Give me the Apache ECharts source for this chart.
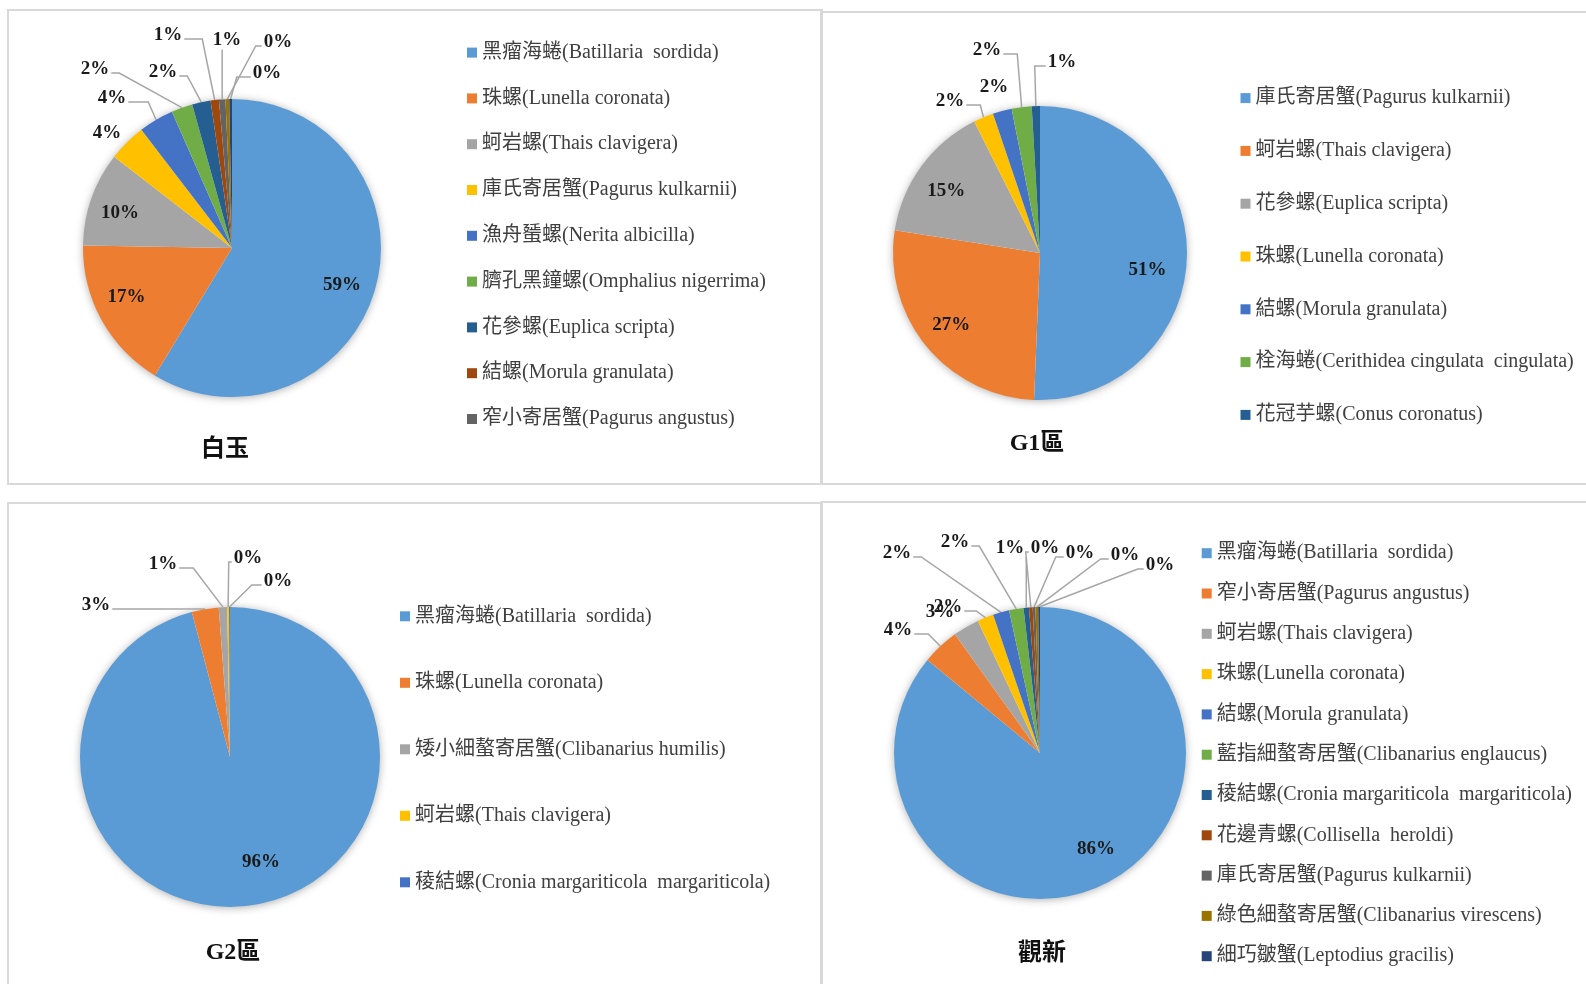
<!DOCTYPE html>
<html>
<head>
<meta charset="utf-8">
<script src="https://cdn.jsdelivr.net/npm/echarts@6/dist/echarts.min.js"></script>
<style>
html,body{margin:0;padding:0;background:#fff;width:1586px;height:984px;overflow:hidden;position:relative}
.box{position:absolute;border:2px solid #d9d9d9;box-sizing:border-box}
.chart{position:absolute}
</style>
</head>
<body>
<div class="box" style="left:7px;top:9px;width:816px;height:476px"></div>
<div class="box" style="left:820px;top:11px;width:800px;height:474px"></div>
<div class="box" style="left:7px;top:502px;width:816px;height:520px"></div>
<div class="box" style="left:820px;top:501px;width:800px;height:520px"></div>
<div id="c1" class="chart"></div>
<div id="c2" class="chart"></div>
<div id="c3" class="chart"></div>
<div id="c4" class="chart"></div>
<script>
// ---------------- DATA ----------------
const COLORS = ['#5B9BD5','#ED7D31','#A5A5A5','#FFC000','#4472C4','#70AD47','#255E91','#9E480E','#636363','#997300','#264478'];

// 白玉
const baiyuNames = ['黑瘤海蜷(Batillaria  sordida)','珠螺(Lunella coronata)','蚵岩螺(Thais clavigera)','庫氏寄居蟹(Pagurus kulkarnii)','漁舟蜑螺(Nerita albicilla)','臍孔黑鐘螺(Omphalius nigerrima)','花參螺(Euplica scripta)','結螺(Morula granulata)','窄小寄居蟹(Pagurus angustus)','其他1','其他2'];
const baiyuValues = [58.6, 16.6, 10.2, 4.1, 3.8, 2.3, 2.0, 0.9, 0.7, 0.4, 0.3];
const baiyuLegendCount = 9;

// G1區
const g1Names = ['庫氏寄居蟹(Pagurus kulkarnii)','蚵岩螺(Thais clavigera)','花參螺(Euplica scripta)','珠螺(Lunella coronata)','結螺(Morula granulata)','栓海蜷(Cerithidea cingulata  cingulata)','花冠芋螺(Conus coronatus)'];
const g1Values = [50.8, 26.9, 15.2, 2.2, 2.1, 2.2, 0.9];

// G2區
const g2Names = ['黑瘤海蜷(Batillaria  sordida)','珠螺(Lunella coronata)','矮小細螯寄居蟹(Clibanarius humilis)','蚵岩螺(Thais clavigera)','稜結螺(Cronia margariticola  margariticola)'];
const g2Values = [95.9, 2.9, 0.9, 0.2, 0.1];

// 觀新
const gxNames = ['黑瘤海蜷(Batillaria  sordida)','窄小寄居蟹(Pagurus angustus)','蚵岩螺(Thais clavigera)','珠螺(Lunella coronata)','結螺(Morula granulata)','藍指細螯寄居蟹(Clibanarius englaucus)','稜結螺(Cronia margariticola  margariticola)','花邊青螺(Collisella  heroldi)','庫氏寄居蟹(Pagurus kulkarnii)','綠色細螯寄居蟹(Clibanarius virescens)','細巧皺蟹(Leptodius gracilis)'];
const gxValues = [86.0, 4.1, 2.9, 1.8, 1.8, 1.6, 0.6, 0.4, 0.3, 0.3, 0.2];

const titles = ['白玉','G1區','G2區','觀新'];

// ---------------- LAYOUT / STYLE ----------------
// label spec: [dx, dy from pie centre, mode, horizontal segment]; mode: i=inside, n=no line, r/l=line on right/left, b=line from below
const PANELS = [
  {id:'c1', box:[7,10,816,474], center:[232,248], r:149, titleAt:[225,450], legendAt:[467,41.6], legendGap:23.8,
   names:baiyuNames, values:baiyuValues, legend:baiyuNames.slice(0, baiyuLegendCount), title:titles[0],
   labels:[[110,37,'i'],[-105.5,49.5,'i'],[-112,-35,'i'],[-125,-115,'n'],[-120,-150,'r',20],[-137,-179,'r',8],[-69,-176,'r',8],[-64,-213,'r',18],[-5,-208,'b'],[46,-206,'l',6],[35,-175,'l',14]]},
  {id:'c2', box:[820,11,766,474], center:[1040,253], r:147, titleAt:[1037,444], legendAt:[1240.5,87.1], legendGap:30.8,
   names:g1Names, values:g1Values, legend:g1Names, title:titles[1],
   labels:[[107.6,17.2,'i'],[-88.7,71.9,'i'],[-93.8,-61.7,'i'],[-90,-152,'r',14],[-46,-166,'n'],[-53,-203,'r',14],[22,-191,'l',11]]},
  {id:'c3', box:[7,502,816,482], center:[230,757], r:150, titleAt:[233,953], legendAt:[400,605.3], legendGap:44.5,
   names:g2Names, values:g2Values, legend:g2Names, title:titles[2],
   labels:[[31,105,'i'],[-134,-152,'r',10],[-67,-193,'r',14],[18,-199,'l',3],[48,-176,'l',10]]},
  {id:'c4', box:[820,501,766,483], center:[1040,753], r:146, titleAt:[1042,954], legendAt:[1201.7,542.2], legendGap:18.3,
   names:gxNames, values:gxValues, legend:gxNames, title:titles[3],
   labels:[[56,96,'i'],[-142,-123,'r',14],[-100,-141,'n'],[-92,-146,'r',12],[-143,-200,'r',8],[-85,-211,'r',8],[-30,-205,'b'],[5,-205,'l',3],[40,-200,'l',8],[85,-198,'l',8],[120,-188,'l',6]]}
];

const SERIF = "'Liberation Serif','Times New Roman','Noto Sans CJK TC',serif";

function buildOption(p) {
  const ox = p.box[0], oy = p.box[1];
  const cx = p.center[0] - ox, cy = p.center[1] - oy;
  const data = p.values.map(function (v, i) {
    const mode = p.labels[i][2];
    return {
      value: v,
      name: p.names[i],
      itemStyle: { color: COLORS[i] },
      label: { position: mode === 'i' ? 'inside' : 'outside' },
      labelLine: { show: mode !== 'i' && mode !== 'n' }
    };
  });
  return {
    animation: false,
    title: {
      text: p.title, left: p.titleAt[0] - ox, top: p.titleAt[1] - oy, padding: 0,
      textAlign: 'center', textVerticalAlign: 'middle',
      textStyle: { fontFamily: SERIF, fontSize: 24, fontWeight: 'bold', color: '#111' }
    },
    legend: {
      orient: 'vertical', left: p.legendAt[0] - ox, top: p.legendAt[1] - oy, padding: 0,
      itemGap: p.legendGap, itemWidth: 10, itemHeight: 10, icon: 'rect', selectedMode: false,
      data: p.legend,
      textStyle: { fontFamily: SERIF, fontSize: 20, color: '#404040', lineHeight: 22 }
    },
    graphic: [{
      type: 'circle', silent: true, z: -10,
      shape: { cx: cx, cy: cy, r: p.r - 1 },
      style: { fill: '#ffffff', shadowBlur: 10, shadowColor: 'rgba(0,0,0,0.38)', shadowOffsetX: 0, shadowOffsetY: 1 }
    }],
    series: [{
      type: 'pie', center: [cx, cy], radius: p.r, startAngle: 90, clockwise: true,
      avoidLabelOverlap: false, data: data,
      emphasis: { disabled: true },
      label: {
        show: true,
        formatter: function (q) { return Math.round(q.percent) + '%'; },
        fontFamily: SERIF, fontSize: 19, fontWeight: 'bold', color: '#1a1a1a'
      },
      labelLine: { show: true, length: 10, length2: 10, smooth: false, lineStyle: { color: '#A6A6A6', width: 1.5 } },
      labelLayout: function (q) {
        const s = p.labels[q.dataIndex];
        const lx = cx + s[0], ly = cy + s[1];
        const out = { x: lx, y: ly, align: 'center', verticalAlign: 'middle' };
        const pts = q.labelLinePoints;
        if (pts && pts.length && (s[2] === 'r' || s[2] === 'l' || s[2] === 'b')) {
          const a = pts[0];
          const w = q.labelRect.width, h = q.labelRect.height;
          let t, e;
          if (s[2] === 'r') { t = [lx + w / 2 + 2, ly + 4]; e = [t[0] + s[3], t[1]]; }
          else if (s[2] === 'l') { t = [lx - w / 2 - 2, ly + 4]; e = [t[0] - s[3], t[1]]; }
          else { t = [a[0], ly + h / 2]; e = [a[0], ly + h / 2]; }
          out.labelLinePoints = [[a[0], a[1]], e, t];
        }
        return out;
      }
    }]
  };
}

PANELS.forEach(function (p) {
  const el = document.getElementById(p.id);
  el.style.left = p.box[0] + 'px';
  el.style.top = p.box[1] + 'px';
  el.style.width = p.box[2] + 'px';
  el.style.height = p.box[3] + 'px';
  const chart = echarts.init(el, null, { renderer: 'canvas' });
  chart.setOption(buildOption(p));
});
</script>
</body>
</html>
